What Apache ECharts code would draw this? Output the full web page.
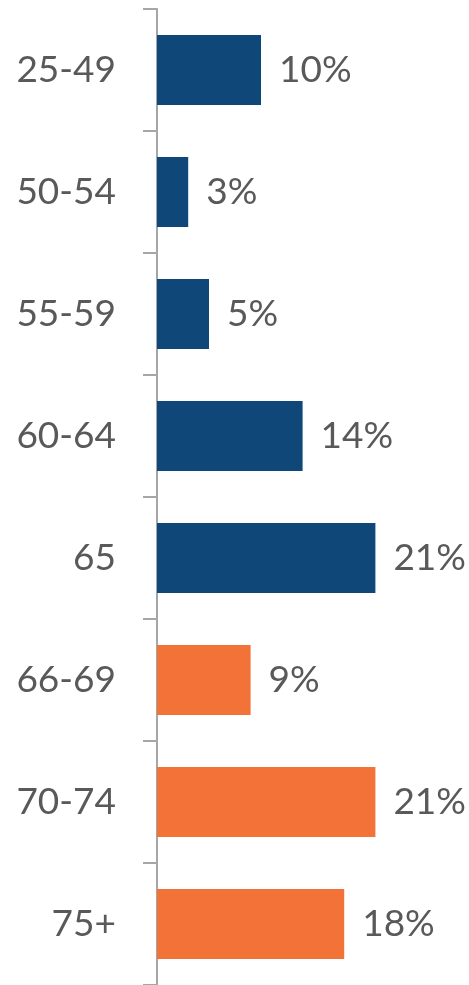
<!DOCTYPE html>
<html>
<head>
<meta charset="utf-8">
<script src="https://cdn.jsdelivr.net/npm/echarts@6/dist/echarts.min.js"></script>
<style>
  html, body { margin: 0; padding: 0; background: #fff; }
  #chart { width: 469px; height: 985px; }
</style>
</head>
<body>
<div id="chart"></div>
<script>
// Age bands of claiming, top to bottom
const ageBands = ['25-49', '50-54', '55-59', '60-64', '65', '66-69', '70-74', '75+'];
// Share of people in each band (%)
const shares = [10, 3, 5, 14, 21, 9, 21, 18];
// Bands from this index onward are drawn in the second colour
const laterStart = 5;

const BLUE = '#0F4878';
const ORANGE = '#F37237';
const TEXT = '#595959';
const FONT = "Lato, 'Open Sans', sans-serif";

const chart = echarts.init(document.getElementById('chart'), null, { renderer: 'canvas' });
chart.setOption({
  animation: false,
  grid: { left: 157, width: 260, top: 9, height: 979.5, containLabel: false },
  xAxis: {
    type: 'value', min: 0, max: 25,
    show: false
  },
  yAxis: {
    type: 'category',
    data: ageBands,
    inverse: true,
    axisLine: { show: true, lineStyle: { color: '#A6A6A6', width: 2 } },
    axisTick: { show: true, length: 14, lineStyle: { color: '#A6A6A6', width: 2 } },
    axisLabel: { margin: 41, color: TEXT, fontSize: 37, fontFamily: FONT }
  },
  series: [{
    type: 'bar',
    data: shares,
    barWidth: 70,
    itemStyle: {
      color: p => (p.dataIndex < laterStart ? BLUE : ORANGE)
    },
    label: {
      show: true, position: 'right', distance: 18,
      formatter: p => p.value + '%',
      color: TEXT, fontSize: 37, fontFamily: FONT
    }
  }]
});
</script>
</body>
</html>
